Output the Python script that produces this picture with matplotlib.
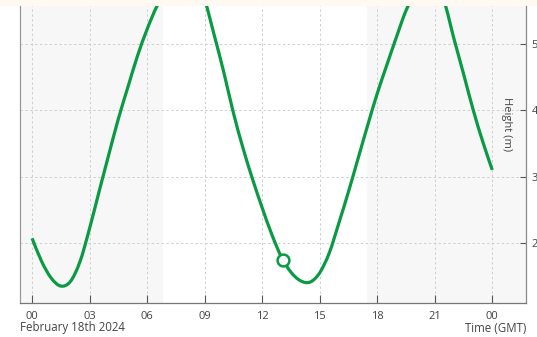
import matplotlib
matplotlib.use("Agg")
import matplotlib.pyplot as plt
from matplotlib.path import Path
from matplotlib.patches import PathPatch, Rectangle
import numpy as np

plt.rcParams['font.family'] = ['Open Sans', 'DejaVu Sans']

# Data (hours since 00:00 GMT, Feb 18th 2024; tide height in m)
hours = [0.0, 0.5, 1.0, 1.5, 2.0, 2.5, 3.0, 3.5, 4.0, 4.5, 5.0, 5.5, 6.0, 6.5,
         7.0, 7.5, 8.0, 8.5, 9.0, 9.5, 10.0, 10.5, 11.0, 11.5, 12.0, 12.5,
         13.0, 13.5, 14.0, 14.5, 15.0, 15.5, 16.0, 16.5, 17.0, 17.5, 18.0,
         18.5, 19.0, 19.5, 20.0, 20.5, 21.0, 21.5, 22.0, 22.5, 23.0, 23.5, 24.0]
heights = [2.07, 1.72, 1.47, 1.35, 1.42, 1.72, 2.22, 2.78, 3.33, 3.87, 4.35,
           4.82, 5.22, 5.56, 5.80, 5.93, 6.00, 5.93, 5.66, 5.13, 4.57, 3.96,
           3.43, 2.96, 2.53, 2.13, 1.79, 1.56, 1.43, 1.41, 1.55, 1.85, 2.30,
           2.77, 3.27, 3.77, 4.25, 4.68, 5.10, 5.50, 5.78, 5.93, 5.90, 5.63,
           5.08, 4.55, 4.01, 3.53, 3.10]
now_hour = 13.08
now_height = 1.75
night_spans = [(-1.0, 6.82), (17.46, 26.0)]
xtick_hours = [0, 3, 6, 9, 12, 15, 18, 21, 24]
xtick_labels = ['00', '03', '06', '09', '12', '15', '18', '21', '00']
ytick_values = [2, 3, 4, 5]

GREEN = '#0a9a44'
TXT = '#444444'

fig = plt.figure(figsize=(5.37, 3.37), dpi=100)
fig.patch.set_facecolor('white')
fig.patches.append(Rectangle((0, 1 - 6 / 337), 1, 6 / 337, transform=fig.transFigure,
                             facecolor='#fffaf1', edgecolor='none', zorder=-5))

ax = fig.add_axes([20 / 537, 1 - 303 / 337, (526 - 20) / 537, (303 - 6) / 337])
ax.set_xlim(-0.63, 25.76)
ax.set_ylim(1.095, 5.57)

for a, b in night_spans:
    ax.axvspan(a, b, color='#f7f7f7', zorder=0, lw=0)

# smooth line (Catmull-Rom as cubic Bezier) through the data points
x = np.array(hours, dtype=float)
y = np.array(heights, dtype=float)
verts = [(x[0], y[0])]
codes = [Path.MOVETO]
n = len(x)
for i in range(n - 1):
    p0 = (x[i - 1], y[i - 1]) if i > 0 else (x[i], y[i])
    p1 = (x[i], y[i])
    p2 = (x[i + 1], y[i + 1])
    p3 = (x[i + 2], y[i + 2]) if i + 2 < n else (x[i + 1], y[i + 1])
    c1 = (p1[0] + (p2[0] - p0[0]) / 6, p1[1] + (p2[1] - p0[1]) / 6)
    c2 = (p2[0] - (p3[0] - p1[0]) / 6, p2[1] - (p3[1] - p1[1]) / 6)
    verts += [c1, c2, p2]
    codes += [Path.CURVE4] * 3
ax.add_patch(PathPatch(Path(verts, codes), facecolor='none', edgecolor=GREEN,
                       lw=2.3, zorder=3, capstyle='butt'))

ax.plot([now_hour], [now_height], 'o', ms=8.5, mfc='white', mec=GREEN, mew=1.8, zorder=4)

ax.set_xticks(xtick_hours)
ax.set_xticklabels(xtick_labels)
ax.set_yticks(ytick_values)
ax.yaxis.tick_right()
ax.grid(True, color='#cfcfcf', ls=(0, (2.5, 2.5)), lw=0.7, zorder=1)
ax.set_axisbelow(True)
ax.tick_params(axis='x', direction='in', length=6, width=0.8, color='#555555',
               labelsize=8, labelcolor=TXT, pad=6)
ax.tick_params(axis='y', direction='in', length=4, width=0.8, color='#555555',
               labelsize=8, labelcolor=TXT, pad=4, right=True, left=False)

ax.spines['top'].set_visible(False)
ax.spines['left'].set_color('#999999')
ax.spines['right'].set_color('#888888')
ax.spines['bottom'].set_color('#777777')
for s in ['left', 'right', 'bottom']:
    ax.spines[s].set_linewidth(0.9)

fig.text(20 / 537, 1 - 328 / 337, 'February 18th 2024', ha='left', va='center',
         fontsize=8.3, color=TXT)
fig.text(526 / 537, 1 - 328 / 337, 'Time (GMT)', ha='right', va='center',
         fontsize=8.3, color=TXT)
fig.text(506.5 / 537, 1 - 124 / 337, 'Height (m)', ha='center', va='center',
         rotation=270, fontsize=8, color=TXT)

fig.savefig('out.png', dpi=100)
